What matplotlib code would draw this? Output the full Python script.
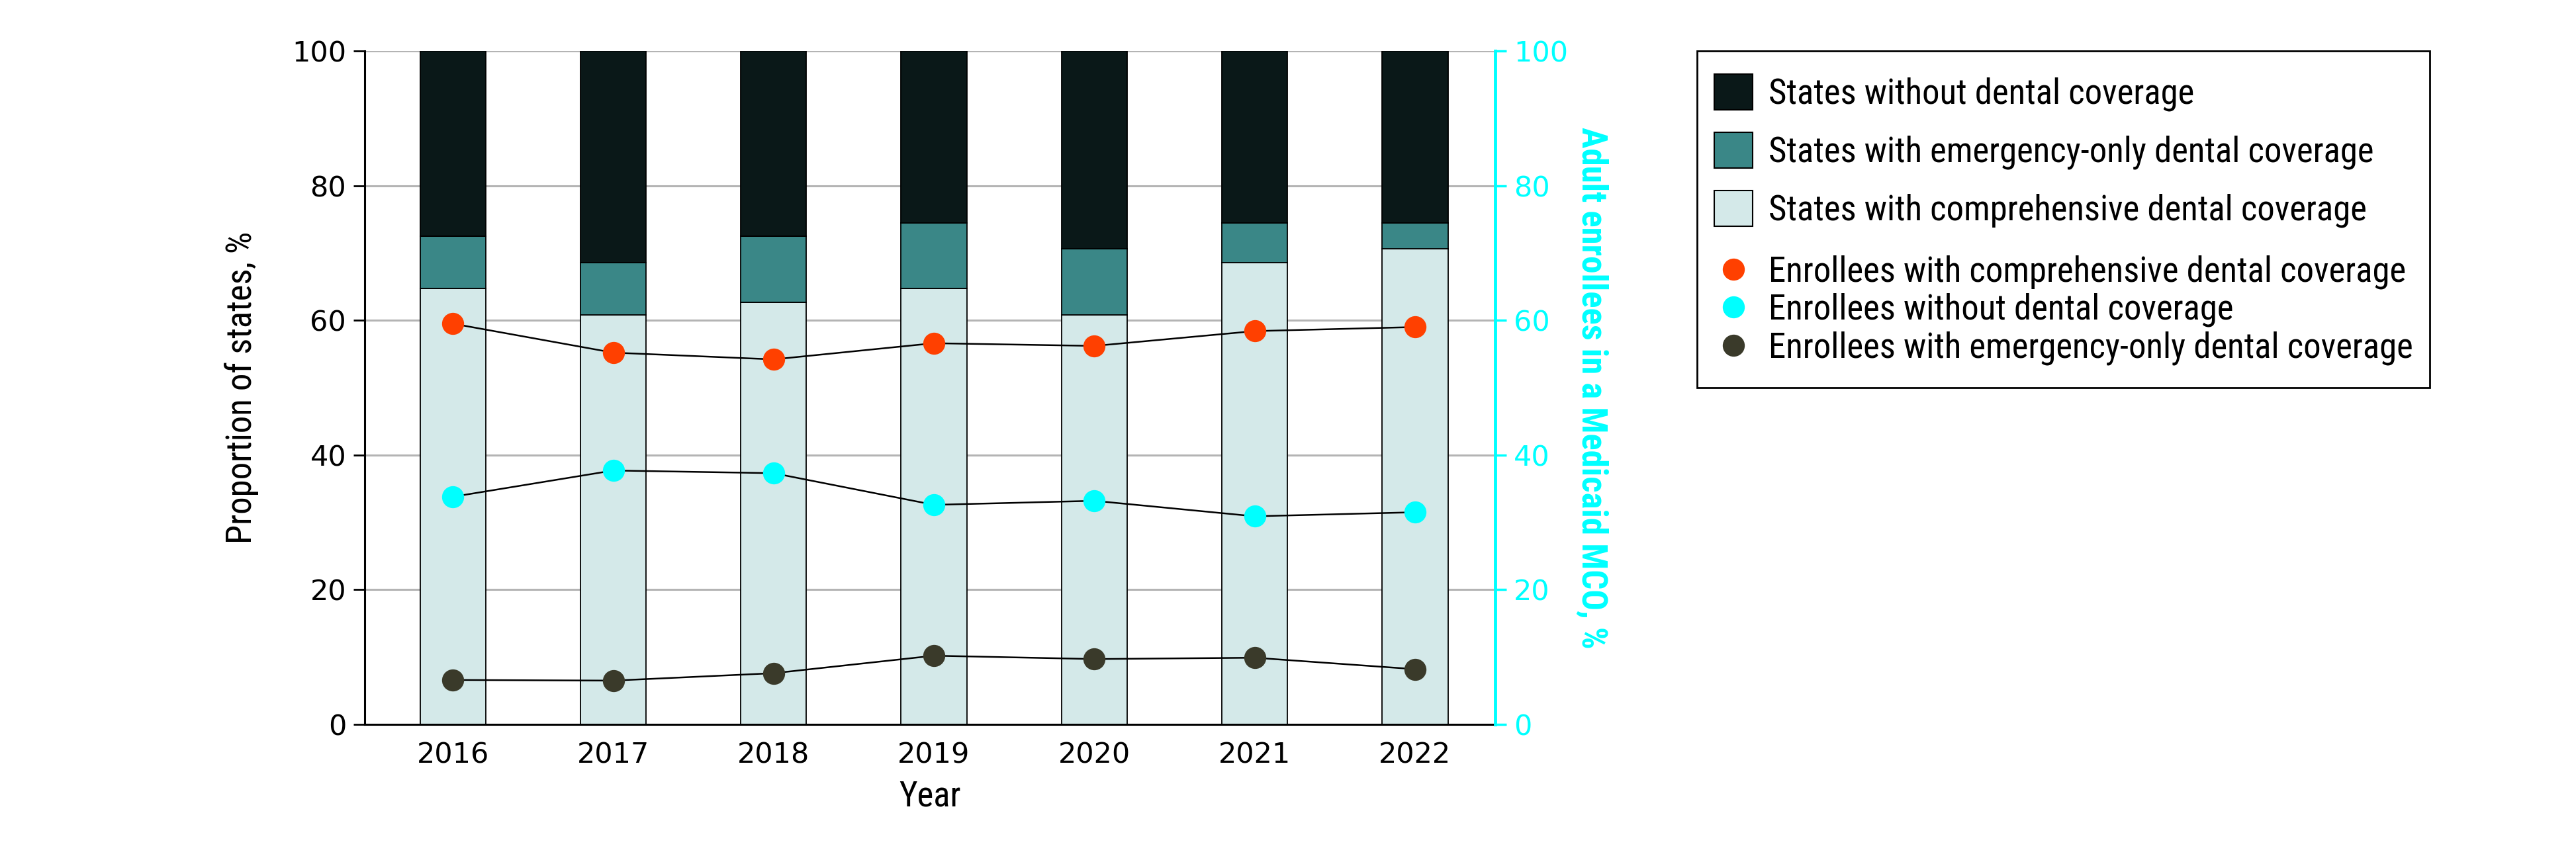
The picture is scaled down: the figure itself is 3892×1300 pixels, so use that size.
import numpy as np
import matplotlib.pyplot as plt
from matplotlib.patches import Patch, Rectangle
from matplotlib.lines import Line2D

# years on the x axis
years = ["2016", "2017", "2018", "2019", "2020", "2021", "2022"]

# proportion of states, % (stacked bars)
states_comprehensive = [64.7, 60.8, 62.7, 64.7, 60.8, 68.6, 70.6]
states_emergency = [7.8, 7.8, 9.8, 9.8, 9.8, 5.9, 3.9]
states_without = [27.5, 31.4, 27.5, 25.5, 29.4, 25.5, 25.5]

# adult enrollees in a Medicaid MCO, % (points, right axis)
enr_comprehensive = [59.5, 55.2, 54.2, 56.6, 56.2, 58.4, 59.0]
enr_without = [33.8, 37.7, 37.3, 32.6, 33.2, 30.9, 31.5]
enr_emergency = [6.6, 6.5, 7.6, 10.2, 9.7, 9.9, 8.2]

c_without = "#0a1818"
c_emerg = "#3a8787"
c_comp = "#d4e9e9"
c_orange = "#ff4000"
c_cyan = "#00ffff"
c_dark = "#3a3a2a"

label_font = ["Roboto Condensed", "DejaVu Sans"]
fs = 31
lfs = 38

W, H = 3892, 1300
fig = plt.figure(figsize=(W / 100, H / 100), dpi=100)
ax = fig.add_axes([551 / W, 1 - 1095 / H, (2259 - 551) / W, (1095 - 77) / H])

x = np.arange(len(years))
bw = 0.41
comp = np.array(states_comprehensive)
emer = np.array(states_emergency)
wout = np.array(states_without)

ax.bar(x, comp, bw, color=c_comp, edgecolor="black", linewidth=1.3, zorder=2)
ax.bar(x, emer, bw, bottom=comp, color=c_emerg, edgecolor="black", linewidth=1.3, zorder=2)
ax.bar(x, wout, bw, bottom=comp + emer, color=c_without, edgecolor="black", linewidth=1.3, zorder=2)

ax.set_xlim(-0.55, 6.5)
ax.set_ylim(0, 100)
ax.set_yticks([0, 20, 40, 60, 80, 100])
ax.set_xticks(x)
ax.set_xticklabels(years)
ax.yaxis.grid(True, color="#b4b4b4", linewidth=2.2, zorder=0)
ax.set_axisbelow(True)
for s in ["top", "right"]:
    ax.spines[s].set_visible(False)
ax.spines["left"].set_linewidth(2.2)
ax.spines["bottom"].set_linewidth(2.2)
ax.tick_params(axis="y", labelsize=fs, length=12, width=2, pad=8)
ax.tick_params(axis="x", labelsize=fs, length=0, pad=18)
ax.set_xlabel("Year", fontsize=lfs, family=label_font, stretch="condensed", labelpad=12)
ax.set_ylabel("Proportion of states, %", fontsize=lfs, family=label_font,
              stretch="condensed", labelpad=36)

ax2 = ax.twinx()
ax2.set_ylim(0, 100)
ax2.set_yticks([0, 20, 40, 60, 80, 100])
for s in ["top", "left", "bottom"]:
    ax2.spines[s].set_visible(False)
ax2.spines["right"].set_color(c_cyan)
ax2.spines["right"].set_linewidth(3.5)
ax2.tick_params(axis="y", colors=c_cyan, labelsize=fs, length=12, width=2.5, pad=8)
ax2.set_ylabel("Adult enrollees in a Medicaid MCO, %", fontsize=lfs, family=label_font,
               stretch="condensed", fontweight="bold", color=c_cyan, rotation=270, labelpad=44)

ms = 24
for vals, col in [(enr_comprehensive, c_orange), (enr_without, c_cyan), (enr_emergency, c_dark)]:
    ax2.plot(x, vals, color="black", linewidth=1.8, zorder=3)
    ax2.plot(x, vals, "o", color=col, markersize=ms, markeredgewidth=0, zorder=4)

# legend
bar_handles = [
    Patch(facecolor=c_without, edgecolor="black", linewidth=1.5),
    Patch(facecolor=c_emerg, edgecolor="black", linewidth=1.5),
    Patch(facecolor=c_comp, edgecolor="black", linewidth=1.5),
]
bar_labels = ["States without dental coverage",
              "States with emergency-only dental coverage",
              "States with comprehensive dental coverage"]
pt_handles = [
    Line2D([], [], marker="o", linestyle="none", color=c_orange, markersize=ms, markeredgewidth=0),
    Line2D([], [], marker="o", linestyle="none", color=c_cyan, markersize=ms, markeredgewidth=0),
    Line2D([], [], marker="o", linestyle="none", color=c_dark, markersize=ms, markeredgewidth=0),
]
pt_labels = ["Enrollees with comprehensive dental coverage",
             "Enrollees without dental coverage",
             "Enrollees with emergency-only dental coverage"]

leg_prop = {"family": label_font, "size": lfs, "stretch": "condensed"}
fig.legend(bar_handles, bar_labels, loc="upper left",
           bbox_to_anchor=(2590 / W, 1 - 112 / H), frameon=False, prop=leg_prop,
           handlelength=1.1, handleheight=1.2, labelspacing=0.6, handletextpad=0.45,
           borderaxespad=0, borderpad=0)
fig.legend(pt_handles, pt_labels, loc="upper left",
           bbox_to_anchor=(2590 / W, 1 - 385 / H), frameon=False, prop=leg_prop,
           handlelength=1.1, handleheight=0.7, labelspacing=0.12, handletextpad=0.45,
           borderaxespad=0, borderpad=0)
fig.add_artist(Rectangle((2564 / W, 1 - 586 / H), (3671 - 2564) / W, (586 - 77) / H,
                         transform=fig.transFigure, fill=False, edgecolor="black", linewidth=2))

fig.savefig("out.png", dpi=100)
